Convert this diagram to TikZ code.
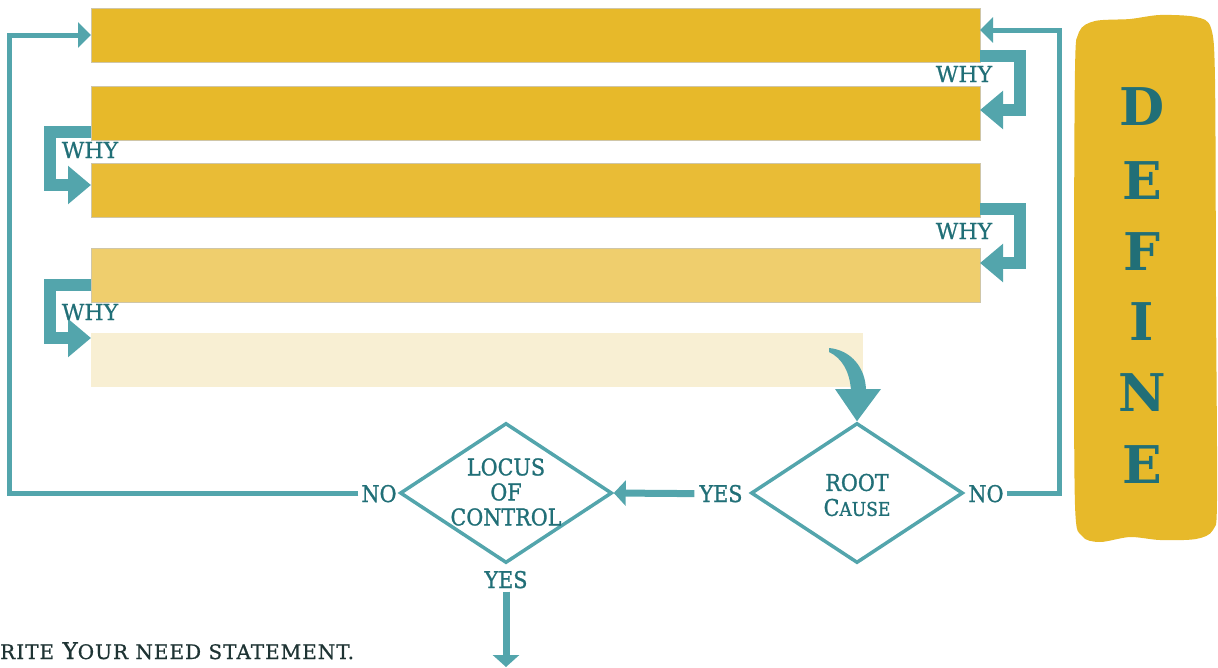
\documentclass[tikz,border=0pt]{standalone}
\usepackage{fontspec}
\setmainfont{DejaVu Serif}
\newfontfamily\condfont[FakeBold=1.2]{DejaVu Serif Condensed}
\newfontfamily\whyfont[FakeBold=0.8]{DejaVu Serif}
\newfontfamily\stmtfont[FakeBold=0.8,LetterSpace=5]{DejaVu Serif}
\usetikzlibrary{arrows.meta,shapes.geometric,calc}

\definecolor{bargold}{HTML}{E7B92A}
\definecolor{barmid}{HTML}{E9BC36}
\definecolor{barlight}{HTML}{EFCE6D}
\definecolor{barpale}{HTML}{F8EFD3}
\definecolor{baredge}{HTML}{CFC6A8}
\definecolor{tealline}{HTML}{53A5AC}
\definecolor{tealtext}{HTML}{216F77}
\definecolor{inkdark}{HTML}{1E3333}

\newcommand\lblfont{\condfont\fontsize{23}{26}\selectfont}
\newcommand\minicap[1]{{\fontsize{19}{22}\selectfont #1}}
\newcommand\stmtcap[1]{{\fontsize{20}{24}\selectfont #1}}

\begin{document}
\begin{tikzpicture}[x=1pt,y=-1pt,
  bar/.style={draw=baredge, line width=0.5pt, minimum height=54pt,
    inner sep=0pt, outer sep=0pt},
  whyarrow/.style={draw=tealline, line width=12pt,
    -{Triangle[length=23pt,width=37pt]}},
  whylabel/.style={text=tealtext, font=\whyfont\fontsize{22}{24}\selectfont,
    anchor=base, inner sep=0pt},
  loopline/.style={draw=tealline, line width=5pt,
    -{Triangle[length=13pt,width=25pt]}},
  decision/.style={diamond, draw=tealline, line width=3.5pt,
    minimum width=212pt, minimum height=140pt, inner sep=0pt},
  answer/.style={text=tealtext, font=\lblfont, anchor=base, inner sep=3pt},
  dtext/.style={text=tealtext, font=\lblfont, align=center, inner sep=0pt},
  letter/.style={text=tealtext, font=\bfseries\fontsize{52}{52}\selectfont,
    inner sep=0pt}
]
\useasboundingbox (0,0) rectangle (1218,667);

% painted banner on the right
\fill[bargold] plot[smooth cycle, tension=0.5] coordinates {
  (1075,70) (1079,32) (1095,21) (1130,19) (1160,15) (1196,17)
  (1211,28) (1215,80) (1216,300) (1217,500) (1213,530) (1196,539)
  (1160,540) (1130,537) (1100,542) (1082,536) (1075,505) (1074,300)};
\foreach \ch/\yy [count=\i] in {D/107,E/181,F/252,I/322,N/393,E/465}
  \node[letter] (def\i) at (1142,\yy) {\ch};

% the five why bars
\node[bar, fill=bargold,  minimum width=889pt] (b1) at (535.5,35)  {};
\node[bar, fill=bargold,  minimum width=889pt] (b2) at (535.5,113) {};
\node[bar, fill=barmid,   minimum width=889pt] (b3) at (535.5,190) {};
\node[bar, fill=barlight, minimum width=889pt] (b4) at (535.5,275) {};
\node[bar, fill=barpale, draw=barpale, minimum width=771pt, minimum height=53pt]
  (b5) at (476.5,359.5) {};

% why steps between the bars
\draw[whyarrow] ([yshift=-21pt]b1.east) -- ++(40,0) |- ([yshift=3pt]b2.east);
\draw[whyarrow] ([yshift=-19pt]b2.west) -- ++(-41,0) |- ([yshift=5pt]b3.west);
\draw[whyarrow] ([yshift=-19pt]b3.east) -- ++(40,0) |- ([yshift=12pt]b4.east);
\draw[whyarrow] ([yshift=-10pt]b4.west) -- ++(-41,0) |- ([yshift=21.5pt]b5.west);

\node[whylabel] (why1) at (964,82)  {WHY};
\node[whylabel] (why2) at (90,158)  {WHY};
\node[whylabel] (why3) at (964,239) {WHY};
\node[whylabel] (why4) at (90,320)  {WHY};

% decisions
\node[decision] (root)  at (857,493) {};
\node[decision] (locus) at (506,493) {};
\node[dtext] (roottxt) at (857,495) {ROOT\\[-1pt]C\minicap{AUSE}};
\node[dtext] (locustxt) at (506,492) {LOCUS\\[-1pt]OF\\[-1pt]CONTROL};

% curved arrow from the last bar into the root cause test
\fill[tealline] (829,348) .. controls (851,350) and (866,368) .. (866,391)
  -- (851,391) .. controls (850,372) and (842,358) .. (829,352) -- cycle;
\fill[tealline] (835,389) -- (881,389) -- (root.north) -- cycle;

% answers
\node[answer] (yesR) at (721,502) {YES};
\node[answer] (noR)  at (986,502) {NO};
\node[answer] (noL)  at (379,502) {NO};
\node[answer] (yesB) at (506,588) {YES};

\draw[draw=tealline, line width=7pt, -{Triangle[length=12pt,width=25pt]}]
  ([xshift=-2pt]yesR.west) -- (locus.east);
\coordinate (bottom) at (506,667);
\draw[draw=tealline, line width=7pt, -{Triangle[length=12pt,width=26pt]}]
  (yesB.south) -- (bottom);

% loops back to the top bar
\coordinate (leftrail)  at (9,35);
\coordinate (rightrail) at (1059,30);
\draw[loopline] (noL.west) -| (leftrail) -- (b1.west);
\draw[loopline] (noR.east) -| (rightrail) -- ([yshift=5pt]b1.east);

% closing instruction
\node[anchor=base west, inner sep=0pt, text=inkdark,
  font=\stmtfont\fontsize{23}{28}\selectfont] (stmt) at (0,659)
  {\stmtcap{RITE} Y\stmtcap{OUR NEED STATEMENT.}};
\end{tikzpicture}
\end{document}
